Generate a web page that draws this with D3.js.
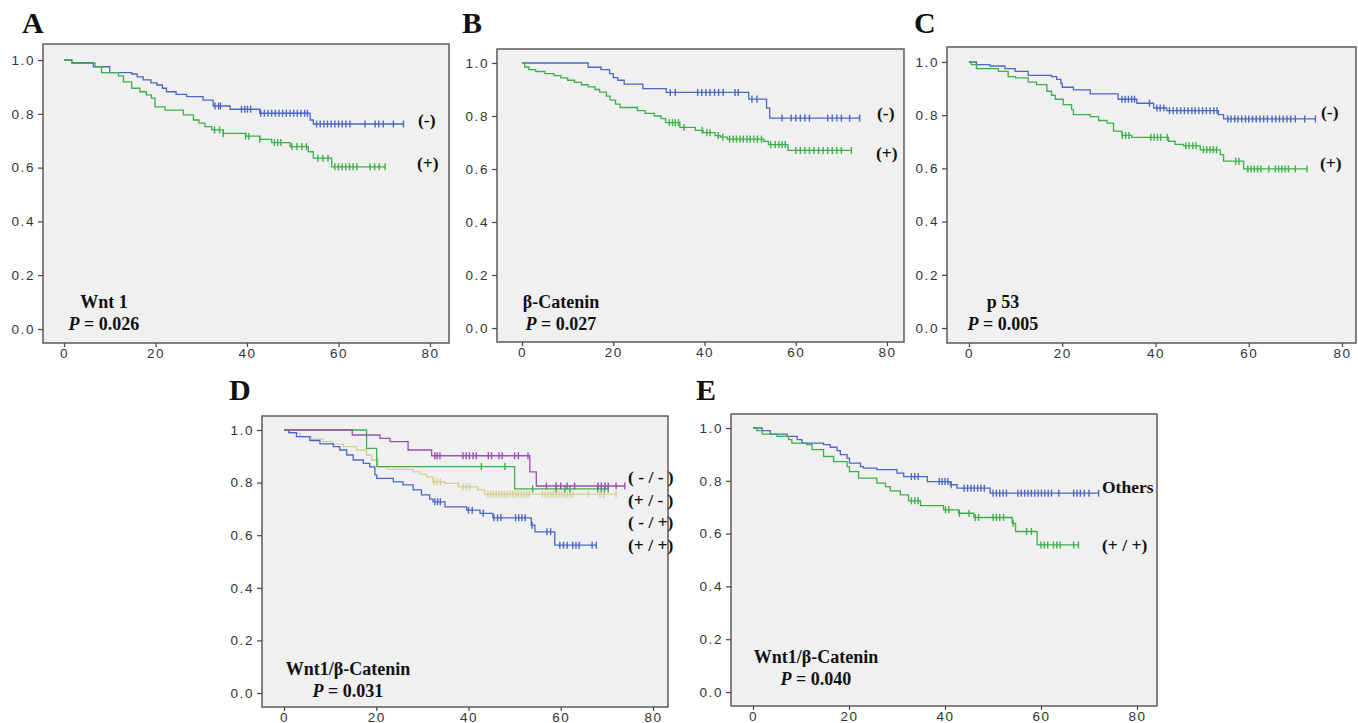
<!DOCTYPE html>
<html>
<head>
<meta charset="utf-8">
<title>Kaplan-Meier curves</title>
<script src="https://cdn.jsdelivr.net/npm/d3@7"></script>
<style>
  body { margin: 0; background: #fff; }
  .tick text { font-family: "Liberation Sans", Arial, sans-serif; font-size: 13.5px; fill: #333; letter-spacing: 1.6px; }
  .lab { font-family: "Liberation Serif", "Times New Roman", serif; font-weight: bold; fill: #111; }
</style>
</head>
<body>
<svg id="fig" width="1358" height="723"></svg>
<script>
// tick labels
var xTicks = [0, 20, 40, 60, 80];
var yTicks = [0, 0.2, 0.4, 0.6, 0.8, 1.0];

// survival steps: [time, survival after the step]
var aNeg = [[0,1],[1.7,0.99],[6.4,0.975],[10,0.953],[14.8,0.948],[16,0.937],[17.3,0.926],[19,0.915],[20.3,0.907],[21.5,0.895],[22.4,0.882],[24.5,0.872],[26.8,0.864],[30.4,0.851],[32.6,0.829],[36.3,0.817],[42.8,0.802],[53.8,0.777],[54.5,0.762]];
var aNegCens = [33,33.8,34.2,38.8,39.5,40.1,40.8,43,43.8,44.6,45.4,46.2,47,47.8,48.6,49.4,50.2,51,51.8,52.6,53.2,55.2,56,56.8,57.6,58.4,59.2,60,60.8,61.6,62.5,65.8,68,68.8,69.8,72,74.2];
var aPos = [[0,1],[1.7,0.988],[6.8,0.975],[8.2,0.953],[11.9,0.941],[13,0.919],[14.8,0.895],[16.6,0.882],[18,0.87],[19.1,0.858],[19.9,0.826],[22.1,0.814],[26.1,0.796],[28.3,0.777],[29.5,0.765],[30.8,0.752],[32.3,0.74],[34.8,0.727],[39.7,0.717],[42.8,0.705],[45.4,0.693],[49.4,0.678],[53.4,0.659],[54.5,0.635],[58.5,0.603]];
var aPosCens = [32.9,34,34.8,39.7,40.4,42.8,46,46.7,47.4,49.8,50.9,52,53,55.5,56.6,57.7,59.2,60,60.8,61.6,62.4,63.2,64,66.9,67.9,68.9,70.2];

var bNeg = [[0,1],[14.5,0.984],[17.3,0.975],[19.2,0.96],[20,0.945],[21,0.935],[22.4,0.92],[26.5,0.903],[31.6,0.889],[49.7,0.864],[53.6,0.83],[54.3,0.792]];
var bNegCens = [32.5,33.6,38.5,39.4,40.3,41.2,42.2,43.1,44.1,46.7,47.4,50.4,51.5,57,59,60,61,62,63,67,68,69,70,71.8,74];
var bPos = [[0,1],[0.6,0.985],[1.5,0.975],[3,0.968],[5,0.96],[7,0.952],[8.5,0.944],[10,0.935],[11.5,0.927],[13,0.918],[14.5,0.91],[16,0.9],[17,0.89],[18.5,0.875],[19.3,0.86],[20.5,0.845],[21.5,0.832],[25.3,0.82],[27,0.81],[29,0.8],[30.5,0.79],[31.5,0.775],[34.6,0.757],[38,0.746],[39.7,0.737],[42.3,0.726],[43.5,0.72],[45,0.713],[53,0.704],[54,0.692],[58.3,0.67]];
var bPosCens = [32.3,33,33.6,34.3,35.5,39.5,40.5,41.2,43,44,45.5,46.3,47,47.8,48.5,49.3,50,50.8,51.6,52.5,54.5,55.5,56.3,57,57.7,60,61,62,63,64,65,66,67,68,69,70,72.2];

var cNeg = [[0,1],[1.6,0.99],[4.5,0.985],[7.7,0.975],[9.9,0.965],[12.7,0.95],[17.7,0.945],[18.8,0.935],[19.7,0.92],[20,0.905],[22.4,0.895],[26,0.88],[32,0.86],[36,0.845],[39.6,0.827],[42.4,0.817],[53.5,0.802],[54.6,0.786]];
var cNegCens = [32.8,33.5,34.2,34.9,35.5,38.7,40.3,41,41.8,43,43.8,44.6,45.4,46.2,47,47.8,48.5,49.3,50.1,50.9,51.7,52.5,53.2,55.5,56.2,57,57.7,58.5,59.3,60,60.8,61.6,62.4,63.2,64,65,65.8,66.6,67.4,68.2,69,70,72,74.3];
var cPos = [[0,1],[0.5,0.99],[1.6,0.975],[6.3,0.965],[8.4,0.945],[10,0.94],[12.7,0.924],[14.5,0.915],[16.7,0.89],[17.7,0.875],[18.5,0.86],[20.2,0.84],[22,0.821],[22.4,0.802],[26,0.795],[27.8,0.78],[29.6,0.77],[31,0.74],[32.8,0.724],[34.9,0.717],[42.8,0.702],[44.2,0.69],[46,0.685],[49.6,0.67],[53.9,0.652],[54.6,0.627],[58.9,0.598]];
var cPosCens = [32.9,33.6,34.3,39,39.7,40.4,41.1,42.5,46.5,47.2,48,48.7,50.3,51,51.7,52.4,53.1,57.2,57.9,59.8,60.5,61.2,61.9,62.6,64.3,65.7,66.4,67.1,67.8,68.5,70,72.5];

var dNN = [[0,1],[14.8,0.981],[20.8,0.968],[23,0.956],[26.9,0.924],[32,0.902],[53.3,0.841],[54.7,0.787]];
var dNNCens = [32.7,33.2,33.8,38.8,39.5,40.2,41,41.7,44.3,45,46.6,47.3,50,50.8,52.9,56.9,59,60,61.4,63,68.1,68.8,69.6,70.3,72,73.9];
var dNP = [[0,1],[17.9,0.93],[20.1,0.861],[50,0.776]];
var dNPCens = [42.8,47.9,53.9,59,60.9,62,68,68.8,69.5,70.3];
var dPN = [[0,1],[1.3,0.987],[3.5,0.975],[6,0.965],[8.5,0.956],[10.5,0.946],[12.9,0.937],[15.7,0.924],[17.9,0.905],[19,0.886],[20.4,0.86],[22.6,0.85],[28,0.841],[29.5,0.832],[30.9,0.822],[32.3,0.803],[34.9,0.797],[37.8,0.784],[42,0.772],[43.5,0.756]];
var dPNCens = [32.5,33.2,33.9,38.8,39.5,40.2,44.2,44.8,45.4,46,46.6,47.2,47.8,48.4,49,49.6,50.2,50.8,51.4,52,52.6,53.2,56,56.6,57.2,57.8,58.4,59,59.6,60.2,60.8,61.4,62,62.6,66,68.5,69.3,72];
var dPP = [[0,1],[1,0.99],[2.7,0.975],[5.6,0.96],[7.8,0.947],[10.7,0.937],[12.1,0.924],[13.6,0.905],[15,0.886],[17.2,0.873],[18.6,0.86],[19.7,0.829],[20.1,0.816],[23.7,0.803],[25.8,0.791],[28,0.772],[29.8,0.753],[31.6,0.737],[32.3,0.727],[34.9,0.708],[39.6,0.695],[42.5,0.683],[45.3,0.666],[53.6,0.638],[54.4,0.613],[58.7,0.562]];
var dPPCens = [32.7,33.3,33.9,40,40.8,43.2,45.5,46.3,47,50.2,50.9,51.6,52.3,53.8,57,57.8,59.8,60.6,61.4,62.6,63.3,64,66.8,67.7];

var eOth = [[0,1],[1.9,0.99],[3.6,0.977],[7.1,0.968],[9.2,0.956],[10.2,0.943],[14.7,0.937],[16.1,0.927],[17.5,0.914],[18.2,0.899],[19.6,0.886],[20.1,0.867],[22.4,0.854],[23,0.848],[25.8,0.842],[30,0.829],[31.4,0.816],[36.3,0.797],[41.1,0.785],[42.5,0.772],[49.4,0.753]];
var eOthCens = [33,33.7,34.4,38.8,39.4,40,40.6,41.3,44,44.7,45.4,46.1,46.8,47.5,48.2,50,50.7,51.4,52.1,52.8,55.2,55.9,56.6,57.3,58,58.7,59.4,60.1,60.8,61.5,62.2,63.7,66.8,67.5,68.2,69,70,72];
var ePP = [[0,1],[0.8,0.99],[1.9,0.977],[5,0.968],[7.4,0.956],[8.1,0.943],[11.2,0.937],[12.3,0.918],[14.7,0.892],[16.8,0.873],[19.6,0.854],[20.1,0.835],[22,0.81],[25.8,0.791],[27.6,0.778],[28.6,0.762],[30.7,0.747],[32.4,0.724],[34.9,0.706],[39.7,0.69],[42.8,0.677],[46,0.661],[54,0.639],[54.7,0.608],[59.2,0.557]];
var ePPCens = [33,33.7,34.4,40.1,40.8,43,45,46.3,47,50,50.7,51.4,52.2,54.2,57,58,60,60.7,61.4,62.6,63.3,64,66.8,67.8];

var BLUE = "#4a68c4", GREEN = "#3db04a", PURPLE = "#9a4fb3", TAN = "#d6cf93";

var panels = [
  { letter: "A", lx: 22, ly: 33, frame: [43, 44, 449, 343], xr: [64, 430], yr: [329, 60],
    note: "Wnt 1", p: "0.026", nx: 104, ny: 308,
    series: [{ s: aNeg, c: aNegCens, col: BLUE }, { s: aPos, c: aPosCens, col: GREEN }],
    legend: [{ t: "(-)", x: 418, y: 126 }, { t: "(+)", x: 417, y: 169 }] },
  { letter: "B", lx: 462, ly: 33, frame: [497, 49, 904, 342], xr: [522, 887], yr: [328, 63],
    note: "\u03b2-Catenin", p: "0.027", nx: 561, ny: 308,
    series: [{ s: bNeg, c: bNegCens, col: BLUE }, { s: bPos, c: bPosCens, col: GREEN }],
    legend: [{ t: "(-)", x: 877, y: 119 }, { t: "(+)", x: 876, y: 159 }] },
  { letter: "C", lx: 914, ly: 33, frame: [947, 47, 1356, 343], xr: [969, 1342], yr: [328, 62],
    note: "p 53", p: "0.005", nx: 1003, ny: 308,
    series: [{ s: cNeg, c: cNegCens, col: BLUE }, { s: cPos, c: cPosCens, col: GREEN }],
    legend: [{ t: "(-)", x: 1321, y: 118 }, { t: "(+)", x: 1320, y: 169 }] },
  { letter: "D", lx: 229, ly: 400, frame: [262, 416, 668, 707], xr: [284, 653], yr: [693, 430],
    note: "Wnt1/\u03b2-Catenin", p: "0.031", nx: 348, ny: 675,
    series: [{ s: dPN, c: dPNCens, col: TAN }, { s: dPP, c: dPPCens, col: BLUE },
             { s: dNP, c: dNPCens, col: GREEN }, { s: dNN, c: dNNCens, col: PURPLE }],
    legend: [{ t: "( - / - )", x: 628, y: 483 }, { t: "(+ / - )", x: 628, y: 506 },
             { t: "( - / +)", x: 628, y: 528 }, { t: "(+ / +)", x: 628, y: 551 }] },
  { letter: "E", lx: 696, ly: 400, frame: [731, 414, 1157, 706], xr: [753, 1137], yr: [692, 428],
    note: "Wnt1/\u03b2-Catenin", p: "0.040", nx: 816, ny: 663,
    series: [{ s: eOth, c: eOthCens, col: BLUE }, { s: ePP, c: ePPCens, col: GREEN }],
    legend: [{ t: "Others", x: 1102, y: 493 }, { t: "(+ / +)", x: 1102, y: 551 }] }
];

var svg = d3.select("#fig");

function levelAt(steps, t) {
  var v = steps[0][1];
  steps.forEach(function(d) { if (d[0] <= t) v = d[1]; });
  return v;
}

panels.forEach(function(P) {
  var g = svg.append("g");
  var f = P.frame;
  var x = d3.scaleLinear().domain([0, 80]).range(P.xr);
  var y = d3.scaleLinear().domain([0, 1]).range(P.yr);

  g.append("text").attr("class", "lab").attr("x", P.lx).attr("y", P.ly)
    .style("font-size", "30px").text(P.letter);

  g.append("rect").attr("x", f[0]).attr("y", f[1])
    .attr("width", f[2] - f[0]).attr("height", f[3] - f[1])
    .attr("fill", "#f0f0f0").attr("stroke", "#5e5a58").attr("stroke-width", 1.5);

  var xAxis = g.append("g").attr("transform", "translate(0," + f[3] + ")")
    .call(d3.axisBottom(x).tickValues(xTicks).tickSize(4).tickPadding(1).tickFormat(d3.format("d")));
  var yAxis = g.append("g").attr("transform", "translate(" + f[0] + ",0)")
    .call(d3.axisLeft(y).tickValues(yTicks).tickSize(5).tickPadding(3).tickFormat(d3.format(".1f")));
  [xAxis, yAxis].forEach(function(a) {
    a.select(".domain").remove();
    a.selectAll(".tick line").attr("stroke", "#444").attr("stroke-width", 1.2);
  });

  var line = d3.line().curve(d3.curveStepAfter)
    .x(function(d) { return x(d[0]); }).y(function(d) { return y(d[1]); });

  P.series.forEach(function(S) {
    var last = S.c[S.c.length - 1];
    var pts = S.s.concat([[Math.max(last, S.s[S.s.length - 1][0]), S.s[S.s.length - 1][1]]]);
    g.append("path").attr("d", line(pts)).attr("fill", "none")
      .attr("stroke", S.col).attr("stroke-width", 1.3);
    g.selectAll(null).data(S.c).enter().append("line")
      .attr("x1", function(t) { return x(t); }).attr("x2", function(t) { return x(t); })
      .attr("y1", function(t) { return y(levelAt(S.s, t)) - 3.5; })
      .attr("y2", function(t) { return y(levelAt(S.s, t)) + 3.5; })
      .attr("stroke", S.col).attr("stroke-width", 1.4);
  });

  P.legend.forEach(function(L) {
    g.append("text").attr("class", "lab").attr("x", L.x).attr("y", L.y)
      .style("font-size", "17.5px").text(L.t);
  });

  g.append("text").attr("class", "lab").attr("x", P.nx).attr("y", P.ny)
    .attr("text-anchor", "middle").style("font-size", "18px").text(P.note);
  var pt = g.append("text").attr("class", "lab").attr("x", P.nx).attr("y", P.ny + 22)
    .attr("text-anchor", "middle").style("font-size", "18px");
  pt.append("tspan").style("font-style", "italic").text("P");
  pt.append("tspan").text(" = " + P.p);
});
</script>
</body>
</html>
